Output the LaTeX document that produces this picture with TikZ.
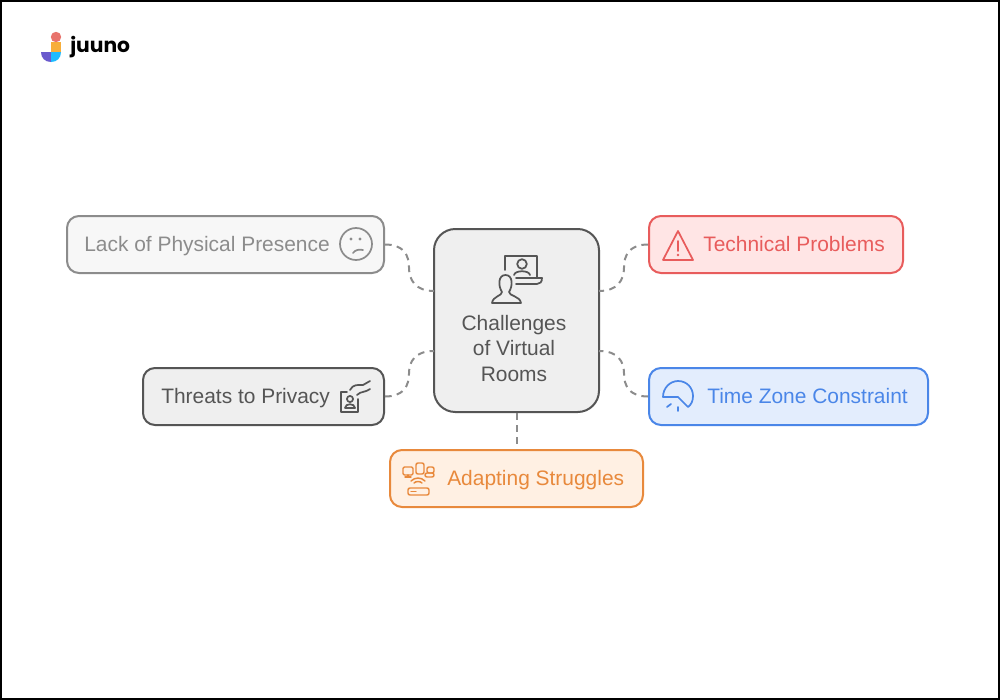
\documentclass[tikz,border=0pt]{standalone}
\usepackage{fontspec}
\setmainfont{Liberation Sans}
\newfontfamily\logofont{Poppins}
\usetikzlibrary{positioning}

\definecolor{inkgray}{HTML}{555555}
\definecolor{softgray}{HTML}{8C8C8C}
\definecolor{mainfill}{HTML}{EFEFEF}
\definecolor{softfill}{HTML}{F7F7F7}
\definecolor{inkred}{HTML}{E85C5C}
\definecolor{redfill}{HTML}{FFE5E5}
\definecolor{inkblue}{HTML}{4A86E8}
\definecolor{bluefill}{HTML}{E3EDFD}
\definecolor{inkorange}{HTML}{E8893C}
\definecolor{orangefill}{HTML}{FFF0E3}
\definecolor{logored}{HTML}{E8736C}
\definecolor{logoyellow}{HTML}{F7AE3B}
\definecolor{logopurple}{HTML}{6A5ACD}
\definecolor{logocyan}{HTML}{1EBBFF}
\def\px{0.75pt}

\tikzset{
  itembox/.style={draw, line width=1.5pt, rounded corners=9pt, minimum height=57*\px, inner sep=0pt},
  itemtext/.style={anchor=base west, inner sep=0pt, font=\fontsize{15.7pt}{19pt}\selectfont},
  link/.style={softgray, line width=1.5pt, dash pattern=on 5pt off 4pt},
  icon/.style={line width=1.3pt, line cap=round, line join=round}
}

\begin{document}
\begin{tikzpicture}[x=0.75pt, y=-0.75pt]
  \useasboundingbox (0,0) rectangle (1000,700);
  \fill[white] (0,0) rectangle (1000,700);
  \draw[black, line width=1.5pt] (1,1) rectangle (999,699);

  % logo
  \fill[logored] (56,37) circle (3.9pt);
  \fill[logoyellow] (51,42) rectangle (61,52);
  \fill[logopurple] (41,52) -- (51,52) -- (51,62) .. controls (45,62) and (41,58) .. (41,52);
  \fill[logocyan] (61,52) -- (51,52) -- (51,62) .. controls (57,62) and (61,58) .. (61,52);
  \node[anchor=base west, inner sep=0pt, font=\logofont\bfseries\fontsize{15.2pt}{19pt}\selectfont] (logo) at (70,52) {juuno};

  % boxes
  \node[itembox, inkgray, fill=mainfill, rounded corners=16pt, minimum width=165*\px, minimum height=183*\px] (room) at (516.5,320.5) {};
  \node[itembox, softgray, fill=softfill, minimum width=317*\px] (lack) at (225.5,244.5) {};
  \node[itembox, inkgray, fill=mainfill, minimum width=241*\px] (threat) at (263.5,396.5) {};
  \node[itembox, inkred, fill=redfill, minimum width=254*\px] (tech) at (776,244.5) {};
  \node[itembox, inkblue, fill=bluefill, minimum width=279*\px] (zone) at (788.5,396.5) {};
  \node[itembox, inkorange, fill=orangefill, minimum width=253*\px] (adapt) at (516.5,478.5) {};

  % texts
  \node[inkgray, align=center, inner sep=0pt, font=\fontsize{15.7pt}{19pt}\selectfont] (roomtext) at (514,348.5) {Challenges\\of Virtual\\Rooms};
  \node[itemtext, softgray] (lacktext) at (84,251) {Lack of Physical Presence};
  \node[itemtext, inkgray] (threattext) at (161,403) {Threats to Privacy};
  \node[itemtext, inkred] (techtext) at (703,251) {Technical Problems};
  \node[itemtext, inkblue] (zonetext) at (707,403) {Time Zone Constraint};
  \node[itemtext, inkorange] (adapttext) at (447,485) {Adapting Struggles};

  % links
  \coordinate (roomnw) at (434,291);
  \coordinate (roomsw) at (434,351);
  \coordinate (roomne) at (599,291);
  \coordinate (roomse) at (599,351);
  \coordinate (lackmid) at (409,267.5);
  \coordinate (threatmid) at (409,373.5);
  \coordinate (techmid) at (624,267.5);
  \coordinate (zonemid) at (624,373.5);
  \draw[link] (lack.east) .. controls +(19,0) and +(0,-12) .. (lackmid) .. controls +(0,12) and +(-19,0) .. (roomnw);
  \draw[link] (threat.east) .. controls +(19,0) and +(0,12) .. (threatmid) .. controls +(0,-12) and +(-19,0) .. (roomsw);
  \draw[link] (tech.west) .. controls +(-19,0) and +(0,-12) .. (techmid) .. controls +(0,12) and +(19,0) .. (roomne);
  \draw[link] (zone.west) .. controls +(-19,0) and +(0,12) .. (zonemid) .. controls +(0,-12) and +(19,0) .. (roomse);
  \draw[link] (room.south) -- (adapt.north);

  % room icon
  \draw[icon, inkgray] (505,270) -- (505,256) -- (537,256) -- (537,278);
  \draw[icon, inkgray] (516,278) -- (542,278) .. controls (542,282) and (540,284) .. (537,284) -- (516,284);
  \draw[icon, inkgray] (522,264) circle (3.6pt);
  \draw[icon, inkgray] (514,275) .. controls (515,270) and (529,270) .. (530,275);
  \draw[icon, inkgray] (502,292) .. controls (498,286) and (498,275) .. (505.5,275) .. controls (513,275) and (513,286) .. (509,292)
    .. controls (509,296) and (520,296) .. (521,303) -- (492,303) .. controls (493,296) and (502,296) .. (502,292);

  % sad face
  \draw[icon, softgray] (356,244) circle (12pt);
  \fill[softgray] (351,239) circle (1.3pt) (360,239) circle (1.3pt);
  \draw[icon, softgray] (353,253) .. controls (355,250) and (359,249) .. (363,250);

  % privacy card and hand
  \draw[icon, inkgray] (347,392) -- (341,392) -- (341,412) -- (358,412) -- (358,399);
  \draw[icon, inkgray] (350,399) circle (2.3pt);
  \draw[icon, inkgray] (345,408) .. controls (345,403) and (355,403) .. (355,408) -- cycle;
  \draw[icon, inkgray] (350,390) .. controls (353,384) and (358,385) .. (363,385) -- (370,381);
  \draw[icon, inkgray] (357,395) .. controls (361,391) and (364,393) .. (370,389);

  % warning
  \draw[icon, inkred] (678,231) -- (693,260) -- (663,260) -- cycle;
  \draw[icon, inkred] (678,241) -- (678,251);
  \fill[inkred] (678,255) circle (1pt);

  % dial
  \draw[icon, inkblue] (663,397) .. controls (663,388) and (670,381) .. (678,381) .. controls (687,381) and (693,388) .. (693,396)
    .. controls (693,401) and (691,405) .. (688,407) -- (678,397) -- cycle;
  \draw[icon, inkblue] (667,407) -- (671,404);
  \draw[icon, inkblue] (678,407) -- (678,411);

  % devices
  \begin{scope}[icon, inkorange, line width=1.1pt]
    \draw[rounded corners=1pt] (403,467) rectangle (413,475);
    \draw (408,475) -- (408,477) (405,477) -- (411,477);
    \draw[rounded corners=1.5pt] (416,463) rectangle (424,474);
    \draw[rounded corners=1.5pt] (427,467) rectangle (434,473);
    \draw[rounded corners=1.5pt] (425,473) rectangle (434,477);
    \draw (414,483) .. controls (416,481) and (420,481) .. (422,483);
    \draw (411,481) .. controls (415,477) and (421,477) .. (425,481);
    \draw[rounded corners=1.5pt] (408,488) rectangle (429,495);
    \draw (411,491.5) -- (416,491.5);
  \end{scope}
\end{tikzpicture}
\end{document}
